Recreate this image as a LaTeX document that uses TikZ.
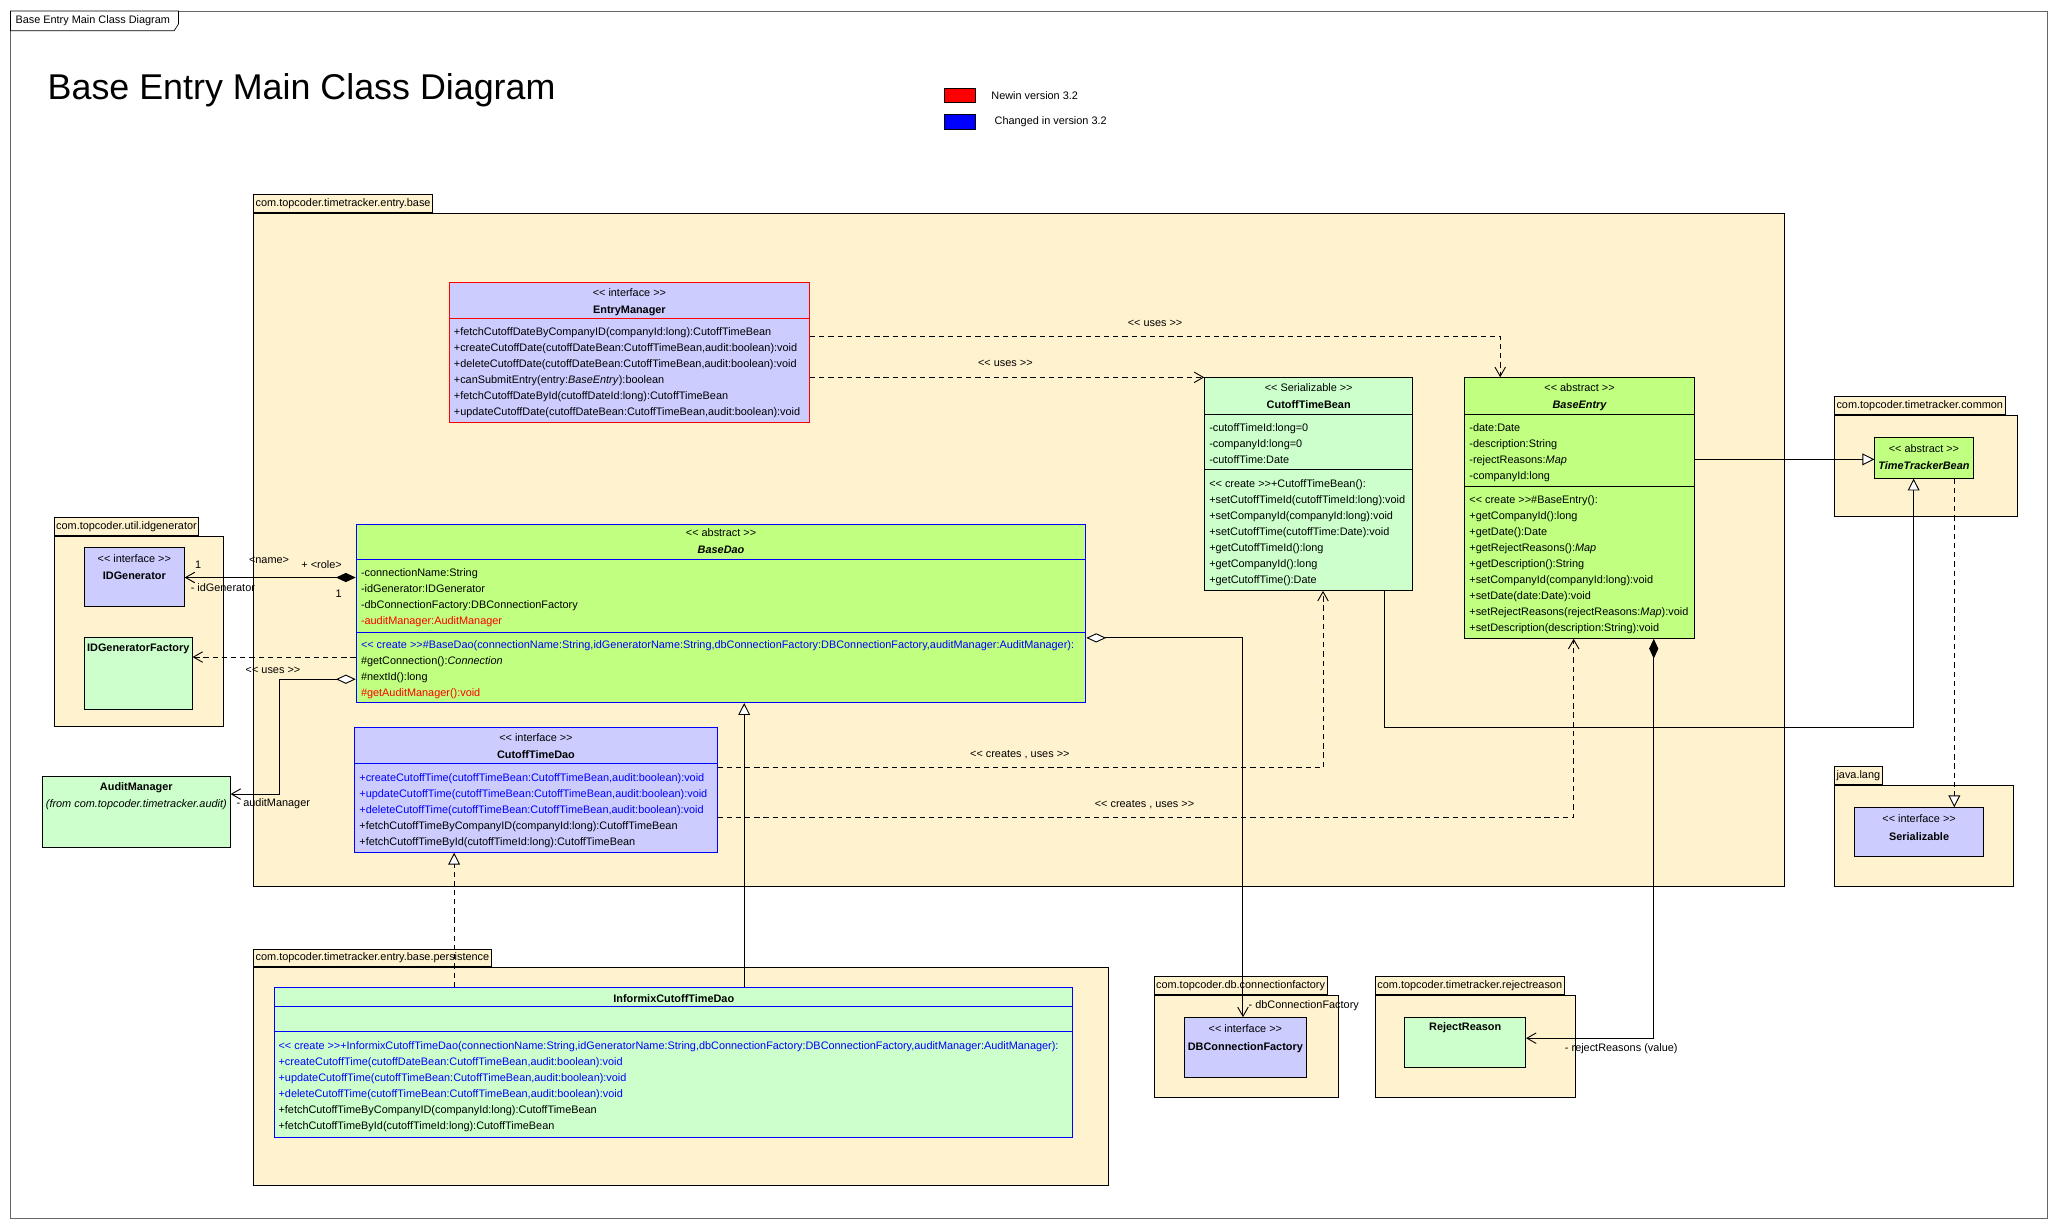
\documentclass[tikz,border=0pt]{standalone}
\usepackage{fontspec}
\setmainfont{Liberation Sans}
\usetikzlibrary{arrows.meta}

\definecolor{pkgfill}{RGB}{255,242,206}
\definecolor{ifcfill}{RGB}{204,204,255}
\definecolor{absfill}{RGB}{192,255,128}
\definecolor{clsfill}{RGB}{204,255,204}
\newcommand{\umlfont}{\fontsize{8.3}{12.19}\selectfont}
\newcommand{\st}[1]{<\kern0pt< #1 >\kern0pt>}

\begin{document}
\begin{tikzpicture}[x=1pt,y=-1pt,line width=0.7pt,font=\umlfont,
  pkgbody/.style={draw,fill=pkgfill,anchor=north west,inner sep=0pt},
  pkgtab/.style={draw,fill=pkgfill,anchor=south west,inner xsep=1.5pt,inner ysep=0pt,minimum height=13.5pt},
  umlbox/.style={draw,anchor=north west,inner sep=0pt},
  hd/.style={anchor=base,inner sep=0pt},
  nm/.style={anchor=base,inner sep=0pt,font=\umlfont\bfseries},
  mem/.style={anchor=base west,inner sep=0pt,align=left},
  lbl/.style={inner sep=0pt},
  dep/.style={dash pattern=on 4pt off 3pt,arrows={-Straight Barb[length=7pt,width=8pt]}},
  gen/.style={arrows={-Triangle[open,fill=white,length=9pt,width=9pt]}},
  real/.style={gen,dash pattern=on 4pt off 3pt},
  comp/.style={arrows={Diamond[length=15pt,width=7pt]-Straight Barb[length=7pt,width=8pt]}},
  agg/.style={arrows={Diamond[open,fill=white,length=15pt,width=7pt]-Straight Barb[length=7pt,width=8pt]}}]
\useasboundingbox (0,0) rectangle (1568,935);

% frame and title
\draw[line width=0.5pt,black!60] (8,8.4) rectangle (1560,928);
\draw[fill=white,line width=0.5pt] (8,8.4) -- (136,8.4) -- (136,18.3) -- (132.7,23.4) -- (8,23.4) -- cycle;
\node[anchor=west,inner sep=0pt] (frametitle) at (11.5,16) {Base Entry Main Class Diagram};
\node[anchor=base west,inner sep=0pt,font=\fontsize{27.3}{30}\selectfont] (title) at (36,75.8) {Base Entry Main Class Diagram};

% legend
\node[umlbox,fill=red,minimum width=24pt,minimum height=11pt] (newbox) at (719,67) {};
\node[lbl,anchor=west] (newtxt) at (755,73) {Newin version 3.2};
\node[umlbox,fill=blue,minimum width=24pt,minimum height=11pt] (chgbox) at (719,87) {};
\node[lbl,anchor=west] (chgtxt) at (757.5,93) {Changed in version 3.2};

% packages
\node[pkgbody,minimum width=1166pt,minimum height=513pt] (pkbase) at (193,162) {};
\node[pkgtab] (pkbasetab) at (pkbase.north west) {com.topcoder.timetracker.entry.base};
\node[pkgbody,minimum width=129pt,minimum height=145pt] (pkidg) at (41,408) {};
\node[pkgtab] (pkidgtab) at (pkidg.north west) {com.topcoder.util.idgenerator};
\node[pkgbody,minimum width=651pt,minimum height=166pt] (pkpers) at (193,737) {};
\node[pkgtab] (pkperstab) at (pkpers.north west) {com.topcoder.timetracker.entry.base.persistence};
\node[pkgbody,minimum width=140.5pt,minimum height=77.6pt] (pkdb) at (879,758) {};
\node[pkgtab] (pkdbtab) at (pkdb.north west) {com.topcoder.db.connectionfactory};
\node[pkgbody,minimum width=152.4pt,minimum height=77.6pt] (pkrej) at (1047.6,758) {};
\node[pkgtab] (pkrejtab) at (pkrej.north west) {com.topcoder.timetracker.rejectreason};
\node[pkgbody,minimum width=139.2pt,minimum height=77pt] (pkcom) at (1397.4,316) {};
\node[pkgtab] (pkcomtab) at (pkcom.north west) {com.topcoder.timetracker.common};
\node[pkgbody,minimum width=136.6pt,minimum height=77pt] (pklang) at (1397.4,598) {};
\node[pkgtab] (pklangtab) at (pklang.north west) {java.lang};

% EntryManager (member lists sit on the baseline of their last line)
\node[umlbox,fill=ifcfill,draw=red,minimum width=274.4pt,minimum height=106.9pt] (em) at (342,214.6) {};
\draw[red] (em.west |- 0,242.4) -- (em.east |- 0,242.4);
\node[hd] at (em.north |- 0,225.7) {\st{interface}};
\node[nm] at (em.north |- 0,238.7) {EntryManager};
\node[mem] at (345.5,316.65) {+fetchCutoffDateByCompanyID(companyId:long):CutoffTimeBean\\
+createCutoffDate(cutoffDateBean:CutoffTimeBean,audit:boolean):void\\
+deleteCutoffDate(cutoffDateBean:CutoffTimeBean,audit:boolean):void\\
+canSubmitEntry(entry:\textit{BaseEntry}):boolean\\
+fetchCutoffDateById(cutoffDateId:long):CutoffTimeBean\\
+updateCutoffDate(cutoffDateBean:CutoffTimeBean,audit:boolean):void};

% CutoffTimeBean
\node[umlbox,fill=clsfill,minimum width=158.5pt,minimum height=162.1pt] (ctb) at (917.5,287.4) {};
\draw (ctb.west |- 0,315.5) -- (ctb.east |- 0,315.5);
\draw (ctb.west |- 0,358) -- (ctb.east |- 0,358);
\node[hd] at (ctb.north |- 0,298.4) {\st{Serializable}};
\node[nm] at (ctb.north |- 0,311.3) {CutoffTimeBean};
\node[mem] at (921,352.98) {-cutoffTimeId:long=0\\-companyId:long=0\\-cutoffTime:Date};
\node[mem] at (921,444.34) {\st{create}+CutoffTimeBean():\\
+setCutoffTimeId(cutoffTimeId:long):void\\
+setCompanyId(companyId:long):void\\
+setCutoffTime(cutoffTime:Date):void\\
+getCutoffTimeId():long\\
+getCompanyId():long\\
+getCutoffTime():Date};

% BaseEntry
\node[umlbox,fill=absfill,minimum width=175pt,minimum height=198.6pt] (be) at (1115.6,287.4) {};
\draw (be.west |- 0,315.6) -- (be.east |- 0,315.6);
\draw (be.west |- 0,371) -- (be.east |- 0,371);
\node[hd] at (be.north |- 0,298.4) {\st{abstract}};
\node[nm,font=\umlfont\bfseries\itshape] at (be.north |- 0,311.3) {BaseEntry};
\node[mem] at (1119.2,365.17) {-date:Date\\-description:String\\-rejectReasons:\textit{Map}\\-companyId:long};
\node[mem] at (1119.2,480.92) {\st{create}\#BaseEntry():\\
+getCompanyId():long\\
+getDate():Date\\
+getRejectReasons():\textit{Map}\\
+getDescription():String\\
+setCompanyId(companyId:long):void\\
+setDate(date:Date):void\\
+setRejectReasons(rejectReasons:\textit{Map}):void\\
+setDescription(description:String):void};

% TimeTrackerBean
\node[umlbox,fill=absfill,minimum width=75pt,minimum height=31pt] (ttb) at (1428,333) {};
\node[hd] at (ttb.north |- 0,344.8) {\st{abstract}};
\node[nm,font=\umlfont\bfseries\itshape] at (ttb.north |- 0,357.5) {TimeTrackerBean};

% BaseDao
\node[umlbox,fill=absfill,draw=blue,minimum width=556pt,minimum height=136pt] (bd) at (271,399) {};
\draw[blue] (bd.west |- 0,426) -- (bd.east |- 0,426);
\draw[blue] (bd.west |- 0,482) -- (bd.east |- 0,482);
\node[hd] at (bd.north |- 0,408.9) {\st{abstract}};
\node[nm,font=\umlfont\bfseries\itshape] at (bd.north |- 0,421.8) {BaseDao};
\node[mem] at (274.7,475.67) {-connectionName:String\\
-idGenerator:IDGenerator\\
-dbConnectionFactory:DBConnectionFactory\\
\textcolor{red}{-auditManager:AuditManager}};
\node[mem] at (274.7,530.47) {\textcolor{blue}{\st{create}\#BaseDao(connectionName:String,idGeneratorName:String,dbConnectionFactory:DBConnectionFactory,auditManager:AuditManager):}\\
\#getConnection():\textit{Connection}\\
\#nextId():long\\
\textcolor{red}{\#getAuditManager():void}};

% CutoffTimeDao
\node[umlbox,fill=ifcfill,draw=blue,minimum width=276pt,minimum height=95pt] (ctd) at (270,554) {};
\draw[blue] (ctd.west |- 0,582) -- (ctd.east |- 0,582);
\node[hd] at (ctd.north |- 0,565) {\st{interface}};
\node[nm] at (ctd.north |- 0,578) {CutoffTimeDao};
\node[mem] at (273.5,644.06) {\textcolor{blue}{+createCutoffTime(cutoffTimeBean:CutoffTimeBean,audit:boolean):void}\\
\textcolor{blue}{+updateCutoffTime(cutoffTimeBean:CutoffTimeBean,audit:boolean):void}\\
\textcolor{blue}{+deleteCutoffTime(cutoffTimeBean:CutoffTimeBean,audit:boolean):void}\\
+fetchCutoffTimeByCompanyID(companyId:long):CutoffTimeBean\\
+fetchCutoffTimeById(cutoffTimeId:long):CutoffTimeBean};

% idgenerator classes
\node[umlbox,fill=ifcfill,minimum width=76pt,minimum height=45pt] (idg) at (64,417) {};
\node[hd] at (idg.north |- 0,428.4) {\st{interface}};
\node[nm] at (idg.north |- 0,441.3) {IDGenerator};
\node[umlbox,fill=clsfill,minimum width=82pt,minimum height=55pt] (idgf) at (64,485) {};
\node[nm] at (idgf.north |- 0,496.5) {IDGeneratorFactory};

% AuditManager
\node[umlbox,fill=clsfill,minimum width=143pt,minimum height=54pt] (am) at (32,591) {};
\node[nm] at (am.north |- 0,602) {AuditManager};
\node[hd,font=\umlfont\itshape] at (am.north |- 0,615) {(from com.topcoder.timetracker.audit)};

% InformixCutoffTimeDao
\node[umlbox,fill=clsfill,draw=blue,minimum width=608pt,minimum height=114pt] (icd) at (209,752) {};
\draw[blue] (icd.west |- 0,767) -- (icd.east |- 0,767);
\draw[blue] (icd.west |- 0,786) -- (icd.east |- 0,786);
\node[nm] at (icd.north |- 0,763.6) {InformixCutoffTimeDao};
\node[mem] at (211.9,860.65) {\textcolor{blue}{\st{create}+InformixCutoffTimeDao(connectionName:String,idGeneratorName:String,dbConnectionFactory:DBConnectionFactory,auditManager:AuditManager):}\\
\textcolor{blue}{+createCutoffTime(cutoffDateBean:CutoffTimeBean,audit:boolean):void}\\
\textcolor{blue}{+updateCutoffTime(cutoffTimeBean:CutoffTimeBean,audit:boolean):void}\\
\textcolor{blue}{+deleteCutoffTime(cutoffTimeBean:CutoffTimeBean,audit:boolean):void}\\
+fetchCutoffTimeByCompanyID(companyId:long):CutoffTimeBean\\
+fetchCutoffTimeById(cutoffTimeId:long):CutoffTimeBean};

% small packages
\node[umlbox,fill=ifcfill,minimum width=93pt,minimum height=45.5pt] (dbcf) at (902,775) {};
\node[hd] at (dbcf.north |- 0,786.7) {\st{interface}};
\node[nm] at (dbcf.north |- 0,800) {DBConnectionFactory};
\node[umlbox,fill=clsfill,minimum width=92pt,minimum height=38pt] (rr) at (1070,775) {};
\node[nm] at (rr.north |- 0,785.2) {RejectReason};
\node[umlbox,fill=ifcfill,minimum width=98.4pt,minimum height=37pt] (ser) at (1412.6,615) {};
\node[hd] at (ser.north |- 0,626.8) {\st{interface}};
\node[nm] at (ser.north |- 0,640) {Serializable};

% dependencies
\draw[dep] (em.east |- 0,256) -| (be.north -| 1143,0);
\node[lbl] (usesbe) at (880,246) {\st{uses}};
\draw[dep] (em.east |- 0,287.5) -- (ctb.west |- 0,287.5);
\node[lbl] (usesctb) at (766,277) {\st{uses}};
\draw[dep] (ctd.east |- 0,585) -| (ctb.south -| 1008,0);
\node[lbl] (crctb) at (777,575) {\st{creates , uses}};
\draw[dep] (ctd.east |- 0,622.5) -| (be.south -| 1199,0);
\node[lbl] (crbe) at (872,613) {\st{creates , uses}};
\draw[dep] (bd.west |- 0,500.6) -- (idgf.east |- 0,500.6);
\node[lbl] (usesidgf) at (208,511) {\st{uses}};

% associations
\draw[comp] (bd.west |- 0,440) -- (idg.east |- 0,440);
\node[lbl] (mult1) at (151,430) {1};
\node[lbl] (assocname) at (205,427) {<name>};
\node[lbl] (assocrole) at (245,430) {+ <role>};
\node[lbl] (mult2) at (258,452) {1};
\node[lbl,anchor=west] (idgrole) at (145,448) {- idGenerator};
\coordinate (amturn) at (213,517.5);
\draw[agg] (bd.west |- amturn) -- (amturn) |- (am.east |- 0,605);
\node[lbl,anchor=west] (amrole) at (180,612) {- auditManager};
\draw[agg] (bd.east |- 0,486) -| (dbcf.north -| 947,0);
\node[lbl,anchor=west] (dbrole) at (951,766) {- dbConnectionFactory};
\draw[comp] (be.south -| 1260,0) |- (rr.east |- 0,791);
\node[lbl,anchor=west] (rrrole) at (1192,799) {- rejectReasons (value)};

% generalizations
\draw[gen] (icd.north -| 567,0) -- (bd.south -| 567,0);
\draw[real] (icd.north -| 346,0) -- (ctd.south -| 346,0);
\draw[gen] (ctb.south -| 1055,0) |- (1458,554) -- (ttb.south -| 1458,0);
\draw[gen] (be.east |- 0,350) -- (ttb.west |- 0,350);
\draw[real] (ttb.south -| 1489,0) -- (ser.north -| 1489,0);
\end{tikzpicture}
\end{document}
